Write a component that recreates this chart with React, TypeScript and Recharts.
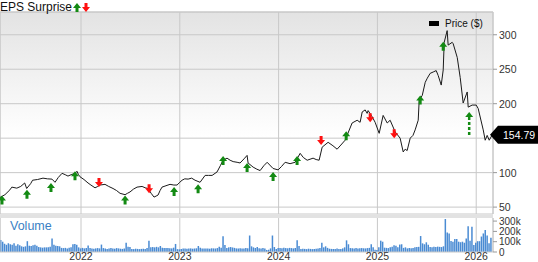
import React from 'react';
import { ComposedChart, Line, Scatter, Bar, XAxis, YAxis, CartesianGrid, ReferenceDot, ReferenceLine } from 'recharts';

// price, weekly-ish closes (decimal year)
const priceDates = [
  2021.18, 2021.23, 2021.28, 2021.30, 2021.35, 2021.39, 2021.43, 2021.45, 2021.49, 2021.51,
  2021.56, 2021.615, 2021.66, 2021.706, 2021.737, 2021.77, 2021.808, 2021.84, 2021.868, 2021.90,
  2021.939, 2021.959, 2021.975, 2021.99, 2022.03, 2022.071, 2022.10, 2022.142, 2022.17, 2022.192,
  2022.243, 2022.28, 2022.324, 2022.36, 2022.395, 2022.446, 2022.47, 2022.496, 2022.53, 2022.567,
  2022.618, 2022.65, 2022.678, 2022.71, 2022.739, 2022.76, 2022.78, 2022.80, 2022.82, 2022.86,
  2022.901, 2022.94, 2022.972, 2023.00, 2023.023, 2023.05, 2023.084, 2023.12, 2023.154, 2023.205,
  2023.256, 2023.29, 2023.327, 2023.377, 2023.41, 2023.438, 2023.478, 2023.509, 2023.54, 2023.58,
  2023.61, 2023.65, 2023.681, 2023.691, 2023.742, 2023.78, 2023.813, 2023.85, 2023.884, 2023.944,
  2023.995, 2024.03, 2024.066, 2024.116, 2024.167, 2024.218, 2024.25, 2024.289, 2024.349, 2024.38,
  2024.41, 2024.441, 2024.501, 2024.55, 2024.592, 2024.63, 2024.673, 2024.744, 2024.795, 2024.825,
  2024.846, 2024.876, 2024.896, 2024.906, 2024.947, 2024.977, 2025.018, 2025.058, 2025.099, 2025.129,
  2025.18, 2025.23, 2025.261, 2025.281, 2025.301, 2025.332, 2025.36, 2025.382, 2025.413, 2025.423,
  2025.454, 2025.484, 2025.505, 2025.534, 2025.565, 2025.595, 2025.615, 2025.646, 2025.666, 2025.676,
  2025.706, 2025.716, 2025.757, 2025.767, 2025.808, 2025.838, 2025.868, 2025.909, 2025.919, 2025.959,
  2026.0, 2026.02, 2026.071, 2026.091, 2026.111, 2026.132, 2026.162,
];
const priceValues = [
  64, 68, 75, 79, 77.5, 80, 85, 77, 84, 89,
  90, 92, 91, 90.6, 86, 93, 99, 97, 95, 97,
  99, 102, 97, 94, 90, 85, 82, 78, 80, 82,
  83, 80, 77, 74, 70, 68, 70, 72, 76, 79,
  80, 78, 77, 70, 64.5, 66, 67.5, 74, 79, 81,
  83, 82, 82, 86, 89, 91, 90.6, 92, 89, 86,
  96, 96, 96, 101, 110, 118, 121, 118, 116, 115,
  114, 120, 125, 114, 108, 105, 103, 110, 115, 106,
  104, 109, 115, 113, 115, 128, 122, 118, 121, 119,
  118, 137, 144, 139, 134, 140, 147, 172, 176, 173,
  188, 191, 186, 190, 181, 173, 157, 183, 172, 176,
  159, 150, 130, 134, 132, 150, 154, 162, 176, 205,
  212, 231, 237, 244, 246, 248, 241, 227, 249, 289,
  306, 285, 289, 287, 267, 238, 201, 217, 195, 198,
  198, 193, 162, 147, 154, 147, 154.79,
];

// EPS surprise markers
const epsDates = [
  2021.2, 2021.453, 2021.696, 2021.939, 2022.182, 2022.446, 2022.689, 2022.942, 2023.185, 2023.438,
  2023.681, 2023.944, 2024.187, 2024.43, 2024.684, 2024.927, 2025.17, 2025.433, 2025.666, 2025.929,
];
const epsPrices = [67, 75, 85, 102, 79, 67, 70, 79, 83, 124, 114, 101, 124, 140, 160, 173, 150, 212, 290, 188];
const epsKinds = [
  'beat', 'beat', 'beat', 'beat', 'miss', 'beat', 'miss', 'beat', 'beat', 'beat',
  'beat', 'beat', 'beat', 'miss', 'beat', 'miss', 'miss', 'beat', 'beat', 'next',
];

// weekly volume, thousands
const volumeStart = 2021.18;
const volumeK = [
  116, 100, 80, 70, 85, 75, 70, 85, 60, 75,
  65, 55, 50, 55, 105, 60, 58, 65, 70, 60,
  48, 45, 42, 45, 45, 45, 50, 130, 70, 60,
  58, 55, 40, 38, 40, 35, 42, 45, 75, 78,
  70, 45, 35, 40, 35, 40, 62, 40, 35, 32,
  35, 38, 35, 72, 38, 35, 30, 35, 38, 35,
  32, 38, 35, 32, 30, 35, 90, 50, 48, 30,
  28, 32, 30, 28, 30, 32, 30, 40, 110, 45,
  48, 45, 50, 45, 58, 42, 40, 38, 40, 36,
  35, 42, 78, 28, 26, 28, 33, 35, 32, 33,
  35, 32, 34, 36, 58, 42, 35, 33, 35, 34,
  32, 36, 35, 34, 38, 50, 42, 152, 68, 40,
  45, 48, 44, 40, 35, 33, 36, 34, 35, 38,
  36, 160, 55, 45, 38, 48, 36, 35, 38, 34,
  20, 22, 35, 160, 48, 28, 38, 40, 36, 42,
  38, 36, 40, 38, 35, 38, 113, 58, 30, 32,
  30, 28, 32, 30, 28, 30, 32, 35, 40, 90,
  45, 55, 40, 32, 30, 28, 30, 33, 30, 28,
  35, 45, 113, 75, 38, 36, 35, 38, 34, 36,
  38, 36, 35, 38, 40, 75, 45, 22, 20, 45,
  110, 100, 42, 40, 38, 45, 50, 65, 60, 45,
  72, 75, 40, 45, 35, 38, 36, 40, 45, 48,
  50, 155, 84, 75, 94, 70, 48, 46, 50, 48,
  52, 50, 48, 55, 320, 190, 180, 107, 100, 126,
  126, 100, 95, 100, 90, 132, 250, 110, 245, 68,
  90, 105, 105, 150, 180, 213, 160, 84, 139,
];

const yearTicks = [2022, 2023, 2024, 2025, 2026];
const priceTicks = [50, 100, 150, 200, 250, 300];
const volumeTicks = [0, 100, 200, 300];
const lastPrice = 154.79;

const X_DOMAIN: [number, number] = [2021.18, 2026.17];
const FONT = '"Liberation Sans", Arial, sans-serif';
const GRID = '#c8c8c8';

const priceData = priceDates.map((t, i) => ({ t, price: priceValues[i] }));
const epsData = epsDates.map((t, i) => ({ t, price: epsPrices[i], kind: epsKinds[i] }));
const volumeData = volumeK.map((v, i) => ({ t: volumeStart + (i + 0.5) / 52, vol: v }));

function upArrow(cx: number, cy: number) {
  return `M${cx},${cy} L${cx + 4},${cy + 5} L${cx + 1.5},${cy + 5} L${cx + 1.5},${cy + 9} L${cx - 1.5},${cy + 9} L${cx - 1.5},${cy + 5} L${cx - 4},${cy + 5} Z`;
}
function downArrow(cx: number, cy: number) {
  return `M${cx},${cy} L${cx + 4},${cy - 5} L${cx + 1.5},${cy - 5} L${cx + 1.5},${cy - 9} L${cx - 1.5},${cy - 9} L${cx - 1.5},${cy - 5} L${cx - 4},${cy - 5} Z`;
}

function EpsArrow(props: any) {
  const { cx, cy, payload } = props;
  if (cx == null || cy == null) return <g />;
  if (payload.kind === 'miss') return <path d={downArrow(cx, cy)} fill="#ff1010" />;
  if (payload.kind === 'next') {
    return (
      <g>
        <path d={`M${cx},${cy} L${cx + 4},${cy + 5} L${cx - 4},${cy + 5} Z`} fill="#138a13" />
        <line x1={cx} y1={cy + 5} x2={cx} y2={cy + 23} stroke="#138a13" strokeWidth={2.5} strokeDasharray="3 2" />
      </g>
    );
  }
  return <path d={upArrow(cx, cy)} fill="#138a13" />;
}

function PriceTick(props: any) {
  const { x, y, payload } = props;
  if (payload.value === 150) return <g />;
  return (
    <text x={x} y={y} dy={4} textAnchor="start" fill="#333" fontSize={10.5} fontFamily={FONT}>
      {payload.value}
    </text>
  );
}

function VolTick(props: any) {
  const { x, y, payload } = props;
  return (
    <text x={x} y={y} dy={3.5} textAnchor="start" fill="#333" fontSize={10} fontFamily={FONT}>
      {payload.value === 0 ? '0' : `${payload.value}k`}
    </text>
  );
}

function PriceTag(props: any) {
  const { cx, cy } = props;
  if (cx == null || cy == null) return <g />;
  return (
    <g>
      <path d={`M${cx - 3},${cy} L${cx + 5},${cy - 9} L${cx + 46},${cy - 9} L${cx + 46},${cy + 9} L${cx + 5},${cy + 9} Z`} fill="#000" />
      <text x={cx + 10} y={cy} dy={4} fill="#fff" fontSize={10.5} fontFamily={FONT}>
        {lastPrice}
      </text>
    </g>
  );
}

export default function App() {
  return (
    <div style={{ position: 'absolute', left: 0, top: 0, width: 538, height: 262, background: '#fff', fontFamily: FONT, overflow: 'hidden' }}>
      <div style={{ position: 'absolute', top: 0, left: 0 }}>
        <ComposedChart width={538} height={216} margin={{ top: 12, right: 0, bottom: 2, left: 0 }}>
          <defs>
            <linearGradient id="priceBg" x1="0" y1="0" x2="0" y2="1">
              <stop offset="0%" stopColor="#e3e3e3" />
              <stop offset="62%" stopColor="#ffffff" />
              <stop offset="100%" stopColor="#ffffff" />
            </linearGradient>
          </defs>
          <CartesianGrid stroke={GRID} fill="url(#priceBg)" fillOpacity={1} />
          <XAxis dataKey="t" type="number" domain={X_DOMAIN} ticks={yearTicks} hide allowDataOverflow />
          <YAxis
            orientation="right"
            type="number"
            domain={[40, 333]}
            ticks={priceTicks}
            interval={0}
            width={45}
            allowDataOverflow
            axisLine={{ stroke: GRID }}
            tickLine={{ stroke: '#999' }}
            tickSize={4}
            tickMargin={2}
            tick={<PriceTick />}
          />
          <ReferenceLine y={333} stroke={GRID} />
          <ReferenceLine x={2021.18} stroke={GRID} />
          <Line data={priceData} dataKey="price" type="linear" stroke="#1a1a1a" strokeWidth={1} dot={false} isAnimationActive={false} />
          <Scatter data={epsData} dataKey="price" shape={<EpsArrow />} isAnimationActive={false} />
          <ReferenceDot x={X_DOMAIN[1]} y={lastPrice} ifOverflow="visible" shape={<PriceTag />} />
        </ComposedChart>
      </div>

      <div style={{ position: 'absolute', top: 215, left: 0, width: 493, height: 3, background: '#e2e2e2' }} />

      <div style={{ position: 'absolute', top: 212, left: 0 }}>
        <ComposedChart width={538} height={50} data={volumeData} margin={{ top: 6, right: 0, bottom: 0, left: 0 }}>
          <CartesianGrid stroke={GRID} horizontal={false} />
          <XAxis
            dataKey="t"
            type="number"
            domain={X_DOMAIN}
            ticks={yearTicks}
            interval={0}
            allowDataOverflow
            height={10}
            axisLine={{ stroke: GRID }}
            tickLine={false}
            tickSize={0}
            tickMargin={1}
            tick={{ fill: '#333', fontSize: 10.5, fontFamily: FONT }}
          />
          <YAxis
            orientation="right"
            type="number"
            domain={[0, 330]}
            ticks={volumeTicks}
            interval={0}
            width={45}
            allowDataOverflow
            axisLine={{ stroke: GRID }}
            tickLine={{ stroke: '#999' }}
            tickSize={4}
            tickMargin={2}
            tick={<VolTick />}
          />
          <ReferenceLine x={2021.18} stroke={GRID} />
          <Bar dataKey="vol" fill="#4a8bd3" barSize={1.5} isAnimationActive={false} />
        </ComposedChart>
      </div>

      <div style={{ position: 'absolute', left: 10, top: 219, fontSize: 12.5, color: '#3a7fc4' }}>Volume</div>

      <div style={{ position: 'absolute', left: 0, top: 0, fontSize: 12, color: '#111', display: 'flex', alignItems: 'center' }}>
        <span>EPS Surprise</span>
        <svg width={20} height={12} style={{ marginLeft: 1 }}>
          <path d={upArrow(4, 2)} fill="#138a13" />
          <path d={downArrow(13, 11)} fill="#ff1010" />
        </svg>
      </div>

      <div style={{ position: 'absolute', left: 429, top: 18, fontSize: 10, color: '#111', display: 'flex', alignItems: 'center' }}>
        <span style={{ display: 'inline-block', width: 10, height: 5, background: '#000', marginRight: 6 }} />
        <span>Price ($)</span>
      </div>
    </div>
  );
}
